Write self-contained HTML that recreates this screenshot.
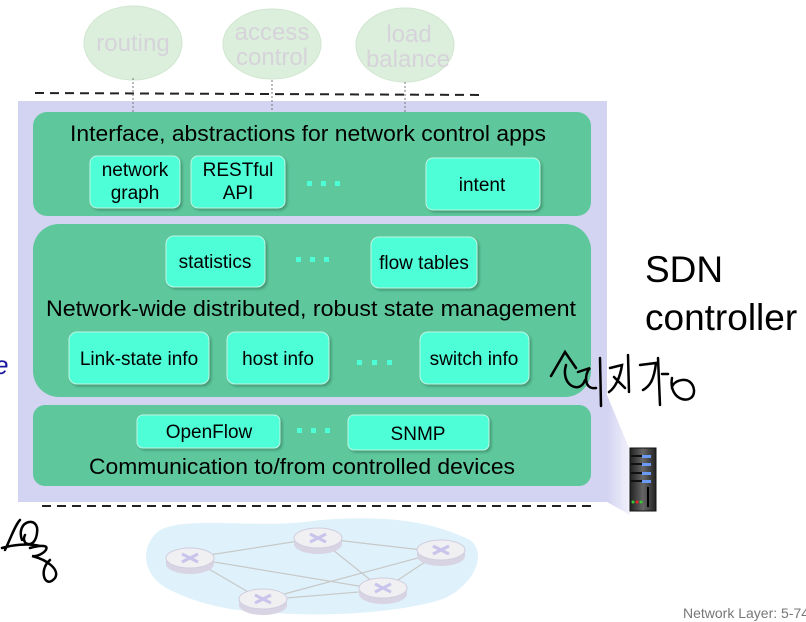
<!DOCTYPE html>
<html><head><meta charset="utf-8"><style>
html,body{margin:0;padding:0;background:#fff;width:806px;height:622px;overflow:hidden}
svg{display:block;font-family:"Liberation Sans","Noto Sans CJK KR",sans-serif}
</style></head><body>
<svg width="806" height="622" viewBox="0 0 806 622" xmlns="http://www.w3.org/2000/svg">
<defs>
<filter id="sh" x="-10%" y="-10%" width="130%" height="140%"><feDropShadow dx="2" dy="2" stdDeviation="1.2" flood-color="#2a6a50" flood-opacity="0.5"/></filter>
<linearGradient id="srv" x1="0" x2="1"><stop offset="0" stop-color="#222"/><stop offset="0.5" stop-color="#666"/><stop offset="1" stop-color="#222"/></linearGradient>
<linearGradient id="trap" x1="0" x2="1"><stop offset="0" stop-color="#d3d3f2"/><stop offset="1" stop-color="#f2f2fb"/></linearGradient>
</defs>
<g fill="#dcefdc" stroke="#d0e6d0">
<ellipse cx="133" cy="43" rx="49" ry="37"/>
<ellipse cx="272" cy="44" rx="49" ry="35"/>
<ellipse cx="405" cy="45" rx="49" ry="37"/>
</g>
<g fill="#d6d3da" font-size="24" text-anchor="middle">
<text x="133" y="51">routing</text>
<text x="272" y="40">access</text>
<text x="272" y="65">control</text>
<text x="409" y="42">load</text>
<text x="408" y="67">balance</text>
</g>
<polygon points="607,395 607,502 630,515 630,450" fill="url(#trap)"/>
<rect x="18" y="101" width="589" height="401" fill="#d3d3f2"/>
<line x1="35" y1="93" x2="485" y2="95" stroke="#222" stroke-width="2" stroke-dasharray="9,6"/>
<line x1="42" y1="506" x2="595" y2="506" stroke="#222" stroke-width="2" stroke-dasharray="9,6"/>
<g stroke="#777" stroke-dasharray="2,2"><line x1="133" y1="78" x2="133" y2="112"/><line x1="272" y1="80" x2="272" y2="112"/><line x1="405" y1="82" x2="405" y2="112"/></g>
<g fill="#5ec89c">
<rect x="33" y="112" width="558" height="104" rx="14"/>
<rect x="33" y="224" width="558" height="173" rx="26"/>
<rect x="33" y="405" width="558" height="81" rx="12"/>
</g>
<g fill="#4dfed6" stroke="#bff5e4" stroke-width="1" filter="url(#sh)">
<rect x="90" y="156" width="90" height="52" rx="7"/>
<rect x="191" y="156" width="94" height="52" rx="7"/>
<rect x="426" y="158" width="114" height="52" rx="7"/>
<rect x="166" y="236" width="99" height="51" rx="8"/>
<rect x="371" y="237" width="106" height="51" rx="8"/>
<rect x="69" y="332" width="140" height="52" rx="8"/>
<rect x="227" y="332" width="102" height="52" rx="8"/>
<rect x="420" y="332" width="109" height="52" rx="8"/>
<rect x="137" y="415" width="143" height="33" rx="6"/>
<rect x="348" y="415" width="141" height="35" rx="6"/>
</g>
<g fill="#4dfed6">
<rect x="307" y="181" width="5" height="5"/><rect x="321" y="181" width="5" height="5"/><rect x="335" y="181" width="5" height="5"/>
<rect x="296" y="257" width="5" height="5"/><rect x="310" y="257" width="5" height="5"/><rect x="324" y="257" width="5" height="5"/>
<rect x="357" y="360" width="5" height="5"/><rect x="372" y="360" width="5" height="5"/><rect x="387" y="360" width="5" height="5"/>
<rect x="297" y="428" width="5" height="5"/><rect x="311" y="428" width="5" height="5"/><rect x="325" y="428" width="5" height="5"/>
</g>
<g fill="#000" font-size="22">
<text x="70" y="141" textLength="476" lengthAdjust="spacingAndGlyphs">Interface, abstractions for network control apps</text>
<text x="46" y="316" textLength="530" lengthAdjust="spacingAndGlyphs">Network-wide distributed, robust  state management</text>
<text x="89" y="474" textLength="426" lengthAdjust="spacingAndGlyphs">Communication to/from controlled devices</text>
</g>
<g fill="#000" font-size="19" text-anchor="middle">
<text x="135" y="176">network</text><text x="135" y="199">graph</text>
<text x="238" y="176">RESTful</text><text x="238" y="199">API</text>
<text x="482" y="191">intent</text>
<text x="215" y="268">statistics</text>
<text x="424" y="269">flow tables</text>
<text x="139" y="365">Link-state info</text>
<text x="278" y="365">host info</text>
<text x="474" y="365">switch info</text>
<text x="209" y="438">OpenFlow</text>
<text x="418" y="440">SNMP</text>
</g>
<text x="645" y="282" font-size="37" fill="#000">SDN</text>
<text x="645" y="330" font-size="37" fill="#000">controller</text>
<text x="-6" y="374" font-size="26" fill="#1a1aa0" font-style="italic">e</text>
<g fill="none" stroke="#000" stroke-width="2.5" stroke-linecap="round">
<path d="M551,376 L565,352 L576,368 M566,365 C560,385 580,395 585,380 M578,372 L590,368 C584,374 584,390 596,388 M600,358 L601,406 M610,368 L622,365 C620,378 615,388 609,392 M614,377 L625,388 M628,355 L629,392 M640,365 L656,363 C654,380 650,386 643,390 M658,358 L660,405 M662,374 L668,374 M672,378 C668,402 695,406 694,390 C692,374 672,380 672,388"/>
<path d="M5,550 C10,540 15,525 20,520 M2,548 C12,545 28,543 40,546 M22,540 C15,520 40,515 37,533 C35,550 20,545 25,535 M30,548 C60,540 42,558 32,556 C48,560 60,570 55,578 C45,590 38,570 50,560"/>
</g>
<rect x="630" y="448" width="26" height="63" fill="url(#srv)" stroke="#111"/>
<g fill="#111"><rect x="631" y="455" width="20" height="2"/><rect x="631" y="463" width="20" height="2"/><rect x="631" y="472" width="20" height="2"/><rect x="631" y="480" width="20" height="2"/></g>
<g fill="#6a9af5"><rect x="642" y="455" width="9" height="3"/><rect x="642" y="463" width="9" height="3"/><rect x="642" y="472" width="9" height="3"/><rect x="642" y="480" width="9" height="3"/></g>
<circle cx="633" cy="502" r="1.5" fill="#3c3"/><circle cx="637" cy="502" r="1.5" fill="#e22"/><circle cx="641" cy="502" r="1.5" fill="#3c3"/>
<rect x="647" y="487" width="2" height="20" fill="#000"/>
<path d="M160,530 C190,515 260,530 320,520 C380,515 430,520 470,540 C490,555 470,590 440,600 C400,612 330,618 260,612 C220,610 190,600 170,590 C140,575 140,545 160,530 Z" fill="#dff2fb"/>
<g stroke="#c8c8c8" stroke-width="1.2">
<line x1="190" y1="558" x2="318" y2="538"/><line x1="318" y1="538" x2="440" y2="552"/>
<line x1="190" y1="558" x2="383" y2="590"/><line x1="190" y1="558" x2="262" y2="600"/>
<line x1="318" y1="538" x2="383" y2="590"/><line x1="440" y1="552" x2="262" y2="600"/>
<line x1="440" y1="552" x2="383" y2="590"/><line x1="262" y1="600" x2="383" y2="590"/>
</g>
<g>
<g transform="translate(190,558)"><ellipse cx="0" cy="6" rx="24" ry="10" fill="#d8d4e4"/><rect x="-24" y="0" width="48" height="6" fill="#d8d4e4"/><ellipse cx="0" cy="0" rx="24" ry="10" fill="#f0eff2" stroke="#d0cede"/><path d="M-8,-4 L8,4 M-8,4 L8,-4" stroke="#c9c4ec" stroke-width="3"/></g>
<g transform="translate(318,538)"><ellipse cx="0" cy="6" rx="24" ry="10" fill="#d8d4e4"/><rect x="-24" y="0" width="48" height="6" fill="#d8d4e4"/><ellipse cx="0" cy="0" rx="24" ry="10" fill="#f0eff2" stroke="#d0cede"/><path d="M-8,-4 L8,4 M-8,4 L8,-4" stroke="#c9c4ec" stroke-width="3"/></g>
<g transform="translate(441,550)"><ellipse cx="0" cy="6" rx="24" ry="10" fill="#d8d4e4"/><rect x="-24" y="0" width="48" height="6" fill="#d8d4e4"/><ellipse cx="0" cy="0" rx="24" ry="10" fill="#f0eff2" stroke="#d0cede"/><path d="M-8,-4 L8,4 M-8,4 L8,-4" stroke="#c9c4ec" stroke-width="3"/></g>
<g transform="translate(383,588)"><ellipse cx="0" cy="6" rx="24" ry="10" fill="#d8d4e4"/><rect x="-24" y="0" width="48" height="6" fill="#d8d4e4"/><ellipse cx="0" cy="0" rx="24" ry="10" fill="#f0eff2" stroke="#d0cede"/><path d="M-8,-4 L8,4 M-8,4 L8,-4" stroke="#c9c4ec" stroke-width="3"/></g>
<g transform="translate(263,599)"><ellipse cx="0" cy="6" rx="24" ry="10" fill="#d8d4e4"/><rect x="-24" y="0" width="48" height="6" fill="#d8d4e4"/><ellipse cx="0" cy="0" rx="24" ry="10" fill="#f0eff2" stroke="#d0cede"/><path d="M-8,-4 L8,4 M-8,4 L8,-4" stroke="#c9c4ec" stroke-width="3"/></g>
</g>
<text x="683" y="618" font-size="14" fill="#777">Network Layer: 5-74</text>
</svg>
</body></html>
